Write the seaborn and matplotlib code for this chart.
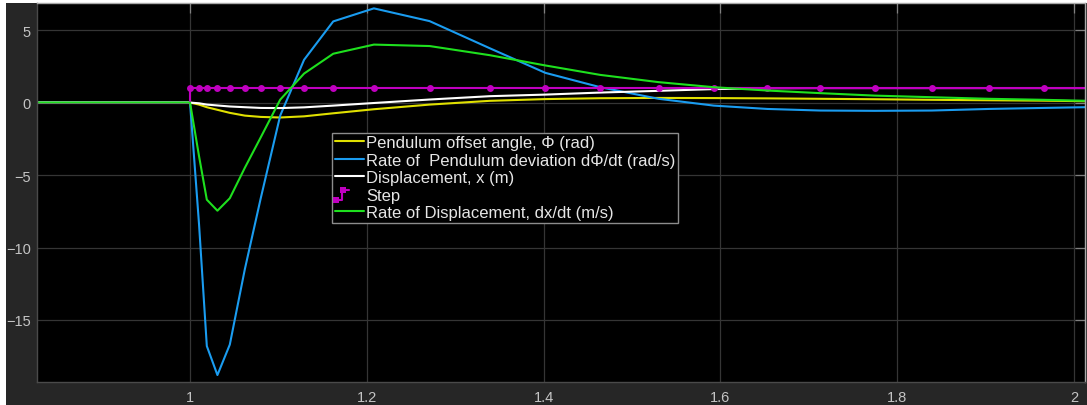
import matplotlib
matplotlib.use("Agg")
import matplotlib.pyplot as plt
from matplotlib.lines import Line2D
from matplotlib.legend_handler import HandlerBase
from matplotlib.patches import Rectangle
import seaborn as sns

# Solver sample times (s)
time = [0.0, 1.0, 1.0102, 1.019, 1.031, 1.045, 1.062, 1.080, 1.102, 1.129,
        1.162, 1.208, 1.271, 1.339, 1.402, 1.464, 1.530, 1.5925, 1.653,
        1.713, 1.7745, 1.839, 1.9035, 1.9655, 2.03]

# Pendulum offset angle (rad)
phi = [0, 0, -0.14, -0.32, -0.50, -0.71, -0.90, -0.99, -1.03, -0.95, -0.74,
       -0.46, -0.14, 0.12, 0.24, 0.30, 0.32, 0.31, 0.29, 0.26, 0.23, 0.19,
       0.16, 0.13, 0.08]

# Pendulum angular rate (rad/s)
dphi = [0, 0, -8.4, -16.8, -18.8, -16.7, -11.5, -6.6, -0.9, 2.95, 5.6, 6.5,
        5.62, 3.75, 2.05, 1.06, 0.26, -0.21, -0.44, -0.55, -0.57, -0.55,
        -0.44, -0.37, -0.30]

# Cart displacement (m)
disp = [0, 0, -0.05, -0.14, -0.20, -0.27, -0.32, -0.37, -0.38, -0.33, -0.21,
        -0.03, 0.21, 0.44, 0.55, 0.69, 0.81, 0.93, 0.99, 1.0, 1.0, 1.0, 1.0,
        1.0, 1.0]

# Step reference input
step = [0] + [1] * 24

# Cart velocity (m/s)
ddisp = [0, 0, -3.7, -6.7, -7.46, -6.6, -4.5, -2.4, 0.2, 2.0, 3.37, 4.0, 3.9,
         3.27, 2.56, 1.91, 1.41, 1.06, 0.83, 0.65, 0.48, 0.37, 0.26, 0.19,
         0.10]

labels = ["Pendulum offset angle, \u03a6 (rad)",
          "Rate of  Pendulum deviation d\u03a6/dt (rad/s)",
          "Displacement, x (m)",
          "Step",
          "Rate of Displacement, dx/dt (m/s)"]
colors = ["#e0e000", "#1a9cf0", "#ffffff", "#c000c0", "#1ee01e"]

sns.set_style("dark")
plt.rcParams["font.family"] = ["Liberation Sans", "DejaVu Sans"]

fig = plt.figure(figsize=(10.87, 4.06), dpi=100, facecolor="white")
fig.patches.append(Rectangle((6 / 1087, 0), 1, (406 - 3.5) / 406,
                             transform=fig.transFigure, facecolor="#262626",
                             edgecolor="none", zorder=-10))

ax = fig.add_axes([37 / 1087, 1 - 383 / 406, 1048 / 1087, 379 / 406])
ax.set_facecolor("black")

lw = 1.5
sns.lineplot(x=time, y=phi, ax=ax, color=colors[0], lw=lw, estimator=None, sort=False)
sns.lineplot(x=time, y=dphi, ax=ax, color=colors[1], lw=lw, estimator=None, sort=False)
sns.lineplot(x=time, y=disp, ax=ax, color=colors[2], lw=lw, estimator=None, sort=False)
sns.lineplot(x=time, y=step, ax=ax, color=colors[3], lw=lw, estimator=None, sort=False,
             drawstyle="steps-post", marker="o", markersize=5, markeredgewidth=0)
sns.lineplot(x=time, y=ddisp, ax=ax, color=colors[4], lw=lw, estimator=None, sort=False)

ax.set_xlim(0.8269, 2.0124)
ax.set_ylim(-19.28, 6.87)
ax.set_xticks([1, 1.2, 1.4, 1.6, 1.8, 2])
ax.set_xticklabels(["1", "1.2", "1.4", "1.6", "1.8", "2"])
ax.set_yticks([-15, -10, -5, 0, 5])
ax.set_xlabel("")
ax.set_ylabel("")

ax.grid(True, color="#353535", lw=0.9)
ax.tick_params(axis="both", direction="in", length=7, width=0.9, color="#808080",
               labelcolor="#c4c4c4", labelsize=10.5, top=True, right=True)
ax.tick_params(axis="x", pad=5.5)
ax.tick_params(axis="y", pad=4.5)
for side in ["left", "bottom"]:
    ax.spines[side].set_color("#4a4a4a")
for side in ["top", "right"]:
    ax.spines[side].set_color("#a8a8a8")
for sp in ax.spines.values():
    sp.set_visible(True)
    sp.set_linewidth(1.0)


class StepHandler(HandlerBase):
    def create_artists(self, legend, orig_handle, xdescent, ydescent,
                       width, height, fontsize, trans):
        x0 = -xdescent
        y0 = -ydescent
        lo = y0 - 0.05 * height
        hi = y0 + 0.8 * height
        c = orig_handle.get_color()
        stairs = Line2D([x0, x0 + 0.25 * width, x0 + 0.25 * width, x0 + 0.5 * width],
                        [lo, lo, hi, hi], color=c, lw=1.5, transform=trans)
        dots = Line2D([x0 + 0.05 * width, x0 + 0.3 * width], [lo, hi], ls="none",
                      marker="s", markersize=4.5, markeredgewidth=0, color=c,
                      transform=trans)
        return [stairs, dots]


handles = [Line2D([], [], color=c, lw=lw) for c in colors]
leg = ax.legend(handles, labels, loc="upper left", bbox_to_anchor=(0.2815, 0.6575),
                borderaxespad=0, frameon=True, fancybox=False, fontsize=12,
                handlelength=1.75, handletextpad=0.14, borderpad=0.15,
                labelspacing=0.15, facecolor="black", edgecolor="#8c8c8c",
                framealpha=1, handler_map={handles[3]: StepHandler()})
leg.get_frame().set_linewidth(1.0)
for t in leg.get_texts():
    t.set_color("#e6e6e6")

fig.savefig("out.png", dpi=100, facecolor=fig.get_facecolor())
